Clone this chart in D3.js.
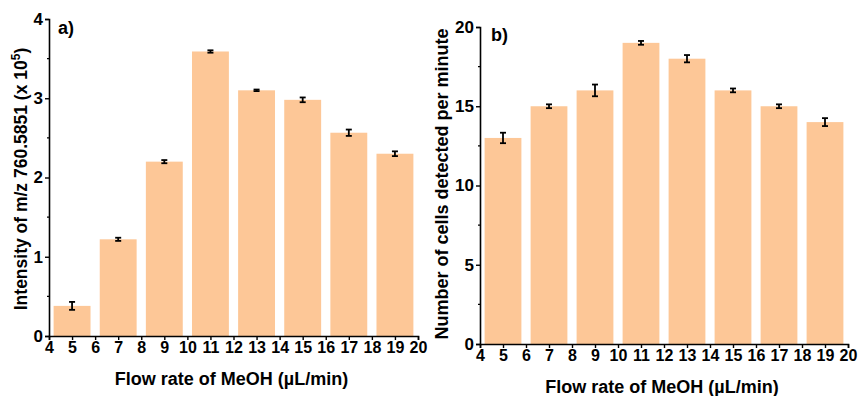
<!DOCTYPE html>
<html>
<head>
<meta charset="utf-8">
<script src="https://cdn.jsdelivr.net/npm/d3@7"></script>
<style>
  html, body { margin: 0; padding: 0; background: #fff; }
  svg { display: block; }
  text { font-family: "Liberation Sans", Arial, sans-serif; font-weight: bold; fill: #000; }
</style>
</head>
<body>
<svg id="chart" width="859" height="396"></svg>
<script>
// Flow rates of methanol (µL/min)
const flowRates = [5, 7, 9, 11, 13, 15, 17, 19];

// Panel a: intensity of m/z 760.5851 (x 10^5) and its standard deviation
const intensity = [0.38, 1.22, 2.20, 3.59, 3.10, 2.98, 2.565, 2.30];
const intensityErr = [0.05, 0.02, 0.02, 0.015, 0.01, 0.03, 0.04, 0.03];

// Panel b: number of cells detected per minute and its standard deviation
const cellCount = [13, 15, 16, 19, 18, 16, 15, 14];
const cellErr = [0.33, 0.12, 0.37, 0.12, 0.23, 0.12, 0.12, 0.25];

const xTicks = d3.range(4, 21, 1);
const yTicksA = [0, 1, 2, 3, 4];
const yTicksB = [0, 5, 10, 15, 20];

const barColor = "#fdc797";
const svg = d3.select("#chart");

function panel(opts) {
  const g = svg.append("g");
  const x = d3.scaleLinear().domain([4, 20]).range([opts.left, opts.right]);
  const y = d3.scaleLinear().domain([0, opts.yMax]).range([opts.bottom, opts.top]);

  // bars
  g.selectAll("rect.bar")
    .data(flowRates)
    .join("rect")
    .attr("class", "bar")
    .attr("x", d => x(d - 0.8))
    .attr("width", d => x(d + 0.8) - x(d - 0.8))
    .attr("y", (d, i) => y(opts.values[i]))
    .attr("height", (d, i) => y(0) - y(opts.values[i]))
    .attr("fill", barColor);

  // error bars
  const eb = g.selectAll("g.err")
    .data(flowRates)
    .join("g")
    .attr("class", "err")
    .attr("stroke", "#000")
    .attr("stroke-width", 1.8);
  eb.append("line")
    .attr("x1", d => x(d)).attr("x2", d => x(d))
    .attr("y1", (d, i) => y(opts.values[i] - opts.errs[i]))
    .attr("y2", (d, i) => y(opts.values[i] + opts.errs[i]));
  eb.append("line")
    .attr("x1", d => x(d) - 3).attr("x2", d => x(d) + 3)
    .attr("y1", (d, i) => y(opts.values[i] + opts.errs[i]))
    .attr("y2", (d, i) => y(opts.values[i] + opts.errs[i]));
  eb.append("line")
    .attr("x1", d => x(d) - 3).attr("x2", d => x(d) + 3)
    .attr("y1", (d, i) => y(opts.values[i] - opts.errs[i]))
    .attr("y2", (d, i) => y(opts.values[i] - opts.errs[i]));

  // x axis
  const xAxis = g.append("g")
    .attr("transform", `translate(0,${opts.bottom})`)
    .call(d3.axisBottom(x).tickValues(xTicks).tickFormat(d3.format("d")).tickSize(4).tickPadding(2));
  xAxis.select(".domain").attr("stroke-width", 1.6);
  xAxis.selectAll(".tick line").attr("stroke-width", 1.4);
  xAxis.selectAll("text").style("font-size", "16px").attr("fill", "#000");

  // y axis, major ticks
  const yAxis = g.append("g")
    .attr("transform", `translate(${opts.left},0)`)
    .call(d3.axisLeft(y).tickValues(opts.yTicks).tickFormat(d3.format("d")).tickSize(4).tickPadding(2));
  yAxis.select(".domain").attr("stroke-width", 1.6);
  yAxis.selectAll(".tick line").attr("stroke-width", 1.4);
  yAxis.selectAll("text").style("font-size", "17px").attr("fill", "#000");

  // y axis, minor ticks
  const minor = opts.yTicks.slice(0, -1).map((t, i) => (t + opts.yTicks[i + 1]) / 2);
  g.selectAll("line.minor")
    .data(minor)
    .join("line")
    .attr("class", "minor")
    .attr("x1", opts.left - 2).attr("x2", opts.left)
    .attr("y1", d => y(d)).attr("y2", d => y(d))
    .attr("stroke", "#000").attr("stroke-width", 1.4);

  // axis titles
  g.append("text")
    .attr("x", (opts.left + opts.right) / 2 - 2)
    .attr("y", opts.bottom + opts.xTitleDy)
    .attr("text-anchor", "middle")
    .style("font-size", "18px")
    .text("Flow rate of MeOH (µL/min)");

  const yt = g.append("text")
    .attr("transform", `translate(${opts.yTitleX},${opts.yTitleY}) rotate(-90)`)
    .attr("text-anchor", "middle")
    .style("font-size", opts.yTitleSize);
  opts.yTitle(yt);

  // panel label
  g.append("text")
    .attr("x", opts.left + opts.labelDx)
    .attr("y", opts.top + opts.labelDy)
    .style("font-size", "18px")
    .text(opts.label);
}

panel({
  left: 49, right: 418, top: 19, bottom: 336, yMax: 4,
  values: intensity, errs: intensityErr, yTicks: yTicksA,
  xTitleDy: 49, yTitleX: 27, yTitleY: 179, yTitleSize: "17.5px",
  yTitle: t => {
    t.append("tspan").text("Intensity of m/z 760.5851 (x 10");
    t.append("tspan").attr("dy", -7).style("font-size", "12px").text("5");
    t.append("tspan").attr("dy", 7).text(")");
  },
  label: "a)", labelDx: 9, labelDy: 15
});

panel({
  left: 480, right: 848, top: 27, bottom: 344, yMax: 20,
  values: cellCount, errs: cellErr, yTicks: yTicksB,
  xTitleDy: 49, yTitleX: 448, yTitleY: 184, yTitleSize: "18px",
  yTitle: t => t.text("Number of cells detected per minute"),
  label: "b)", labelDx: 11, labelDy: 14
});
</script>
</body>
</html>
